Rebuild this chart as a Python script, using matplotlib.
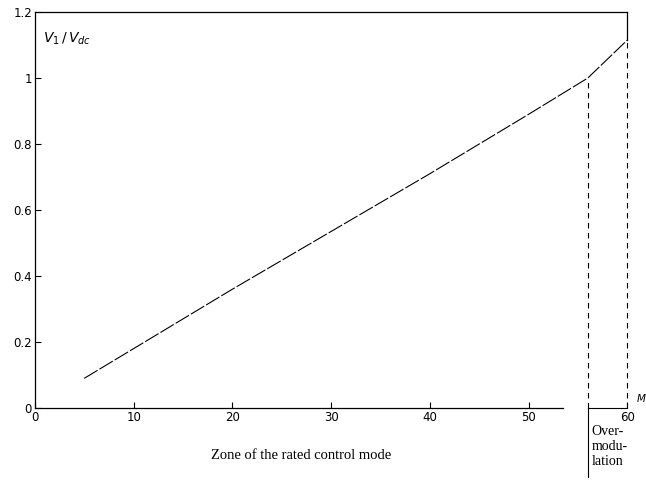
import matplotlib.pyplot as plt

# modulation index curve
x_vals = [5, 10, 20, 30, 40, 45, 50, 56, 60]
ratio = [0.09, 0.18, 0.36, 0.535, 0.71, 0.80, 0.89, 1.0, 1.115]
x_ticks = [0, 10, 20, 30, 40, 50, 60]
y_ticks = [0, 0.2, 0.4, 0.6, 0.8, 1, 1.2]
y_ticklabels = ['0', '0.2', '0.4', '0.6', '0.8', '1', '1.2']
x_limit = 56
x_max = 60

fig = plt.figure(figsize=(6.46, 4.82), dpi=100)
ax = fig.add_axes([0.054, 0.1535, 0.917, 0.8215])

ax.plot(x_vals, ratio, color='black', linewidth=0.8, linestyle=(0, (14, 2)))

# overmodulation zone markers
ax.plot([x_limit, x_limit], [0, 1.0], color='black', linewidth=0.8, linestyle=(0, (5, 4)))
ax.plot([x_max, x_max], [0, ratio[-1]], color='black', linewidth=0.8,
        linestyle=(0, (5, 4)), clip_on=False)
ax.plot([x_limit, x_max], [0, 0], color='black', linewidth=0.8, clip_on=False)
ax.plot([x_limit, x_limit], [0, -0.21], color='black', linewidth=0.8, clip_on=False)

ax.set_xlim(0, x_max)
ax.set_ylim(0, 1.2)
ax.spines['bottom'].set_bounds(0, 53.5)
ax.spines['right'].set_bounds(ratio[-1], 1.2)
for s in ax.spines.values():
    s.set_linewidth(0.9)

ax.set_xticks(x_ticks)
ax.set_yticks(y_ticks)
ax.set_yticklabels(y_ticklabels)
ax.tick_params(direction='in', length=4, width=0.8, labelsize=8.5, pad=2)

ax.text(0.8, 1.12, r'$V_1\,/\,V_{dc}$', fontsize=10, va='center')
ax.text(27, -0.145, 'Zone of the rated control mode', fontsize=10.5,
        family='Liberation Serif', ha='center', va='center')
ax.text(x_limit + 0.4, -0.05, 'Over-\nmodu-\nlation', fontsize=10,
        family='Liberation Serif', ha='left', va='top', linespacing=1.2)
ax.text(60.9, 0.03, r'$M$', fontsize=7.5, ha='left', va='center', clip_on=False)

fig.savefig('out.png', dpi=100)
